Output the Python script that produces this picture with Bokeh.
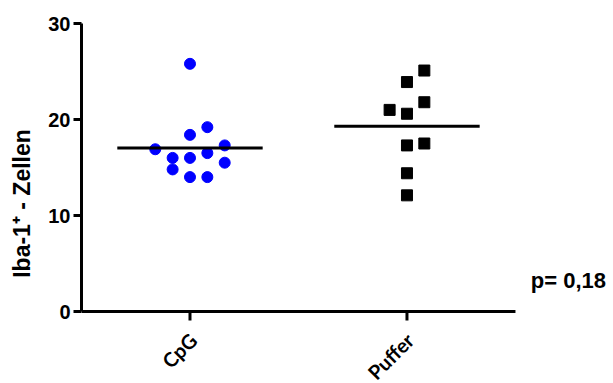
import numpy as np
from bokeh.plotting import figure
from bokeh.models import FixedTicker, Label, Range1d
from bokeh.core.properties import value
from bokeh.embed import file_html
from bokeh.resources import INLINE

categories = ["CpG", "Puffer"]
cpg_values = [25.8, 19.2, 18.4, 16.9, 17.3, 16.0, 16.0, 16.5, 15.5, 14.8, 14.0, 14.0]
cpg_slots = [0, 1, 0, -2, 2, -1, 0, 1, 2, -1, 0, 1]
puffer_values = [25.1, 23.9, 21.8, 21.0, 20.6, 17.5, 17.3, 14.4, 12.1]
puffer_slots = [1, 0, 1, -1, 0, 1, 0, 0, 0]
p_text = "p= 0,18"
y_ticks = [0, 10, 20, 30]

SLOT = 0.08
HALF = 0.335
X_BOUNDS = (-0.5, 1.5)
Y_BOUNDS = (0, 30)
PX = 288 / 30.0  # pixels per y unit

p = figure(width=613, height=383, output_backend="svg", toolbar_location=None,
           x_range=Range1d(-0.5, 1.938), y_range=Range1d(30 - 360 / PX, 30),
           min_border_left=81, min_border_right=3, min_border_top=23, min_border_bottom=0)
p.outline_line_color = None
p.grid.visible = False
p.background_fill_color = "white"
p.xaxis.visible = False

cats_x = list(range(len(categories)))

# x axis drawn as glyphs (line, ticks, rotated labels)
p.segment(x0=[X_BOUNDS[0]], x1=[X_BOUNDS[1]], y0=[Y_BOUNDS[0]], y1=[Y_BOUNDS[0]],
          line_color="black", line_width=3)
p.segment(x0=cats_x, x1=cats_x, y0=[Y_BOUNDS[0]] * 2, y1=[Y_BOUNDS[0] - 9 / PX] * 2,
          line_color="black", line_width=3)
p.text(x=[c + 3 / 217.0 for c in cats_x], y=[Y_BOUNDS[0] - 25 / PX] * 2, text=categories,
       angle=np.pi / 4, text_align="right", text_baseline="middle",
       text_font=value("Lato"), text_font_style="bold", text_font_size="20px", text_color="black")

cx = [0 + s * SLOT for s in cpg_slots]
px = [1 + s * SLOT for s in puffer_slots]
p.scatter(cx, cpg_values, marker="circle", size=11, fill_color="#0000ff", line_color="#0000ff")
p.scatter(px, puffer_values, marker="square", size=11, fill_color="black", line_color="black")

means = [float(np.mean(cpg_values)), float(np.mean(puffer_values))]
p.segment(x0=[i - HALF for i in cats_x], x1=[i + HALF for i in cats_x],
          y0=means, y1=means, line_color="black", line_width=3)

p.yaxis.bounds = Y_BOUNDS
p.yaxis.minor_tick_line_color = None
p.yaxis.ticker = FixedTicker(ticks=y_ticks)
p.yaxis.axis_line_width = 3
p.yaxis.axis_line_color = "black"
p.yaxis.major_tick_line_width = 3
p.yaxis.major_tick_line_color = "black"
p.yaxis.major_tick_in = 0
p.yaxis.major_tick_out = 8
p.yaxis.major_label_text_font = "Liberation Sans"
p.yaxis.major_label_text_font_style = "bold"
p.yaxis.major_label_text_font_size = "20px"
p.yaxis.major_label_text_color = "black"
p.yaxis.major_label_standoff = 3

p.yaxis.axis_label = "Iba-1\u207a - Zellen"
p.yaxis.axis_label_text_font = "Liberation Sans"
p.yaxis.axis_label_text_font_style = "bold"
p.yaxis.axis_label_text_font_size = "23px"
p.yaxis.axis_label_text_color = "black"
p.yaxis.axis_label_standoff = 10

lab = Label(x=1.571, y=3.2, text=p_text, text_font="Liberation Sans", text_font_style="bold",
            text_font_size="22px", text_color="black", text_baseline="middle")
p.add_layout(lab)

open("out.html", "w").write(file_html(p, INLINE))
